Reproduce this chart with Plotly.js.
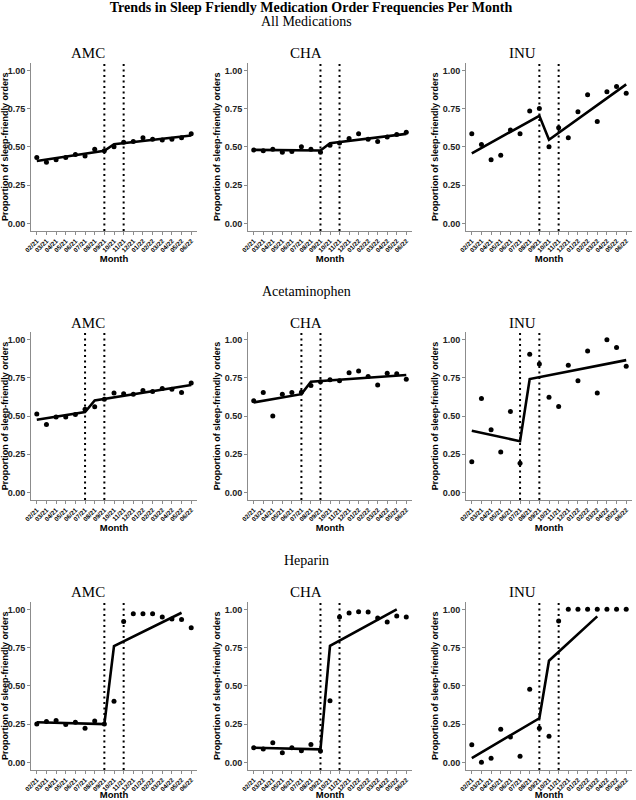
<!DOCTYPE html>
<html>
<head>
<meta charset="utf-8">
<script src="https://cdn.plot.ly/plotly-3.0.1.min.js"></script>
<style>html,body{margin:0;padding:0;background:#fff;}#chart{width:636px;height:800px;}</style>
</head>
<body>
<div id="chart"></div>
<script>
// ---- Data ----
const months = ['02/21','03/21','04/21','05/21','06/21','07/21','08/21','09/21','10/21','11/21','12/21','01/22','02/22','03/22','04/22','05/22','06/22'];
const sites = ['AMC','CHA','INU'];
const groups = ['All Medications','Acetaminophen','Heparin'];

// observed monthly proportions
const allAmcObs  = [0.43,0.40,0.415,0.43,0.45,0.44,0.485,0.475,0.50,0.53,0.535,0.56,0.55,0.545,0.55,0.56,0.585];
const allChaObs  = [0.48,0.475,0.485,0.465,0.47,0.50,0.485,0.465,0.51,0.525,0.555,0.585,0.55,0.535,0.565,0.58,0.595];
const allInuObs  = [0.585,0.515,0.415,0.445,0.61,0.585,0.735,0.75,0.50,0.625,0.56,0.73,0.84,0.665,0.86,0.895,0.85];
const acetAmcObs = [0.513,0.444,0.493,0.493,0.51,0.545,0.56,0.61,0.65,0.645,0.643,0.667,0.66,0.68,0.675,0.654,0.716];
const acetChaObs = [0.60,0.654,0.50,0.643,0.654,0.656,0.70,0.725,0.738,0.73,0.784,0.794,0.758,0.703,0.78,0.777,0.74];
const acetInuObs = [0.20,0.615,0.41,0.264,0.53,0.19,0.905,0.84,0.623,0.563,0.833,0.73,0.926,0.65,1.00,0.948,0.825];
const hepAmcObs  = [0.25,0.267,0.273,0.247,0.262,0.223,0.27,0.25,0.40,0.92,0.972,0.972,0.972,0.95,0.937,0.933,0.88];
const hepChaObs  = [0.095,0.087,0.128,0.063,0.095,0.076,0.117,0.074,0.403,0.95,0.976,0.985,0.983,0.944,0.918,0.957,0.95];
const hepInuObs  = [0.115,0.0,0.026,0.217,0.165,0.04,0.477,0.223,0.17,0.924,1.0,1.0,1.0,1.0,1.0,1.0,1.0];

// fitted segmented-regression lines (breakpoint months and values)
const allFitX    = ['02/21','09/21','10/21','06/22'];
const allAmcFit  = [0.408,0.474,0.517,0.574];
const allChaFit  = [0.48,0.476,0.524,0.585];
const allInuFit  = [0.458,0.703,0.546,0.908];
const acetFitX   = ['02/21','07/21','08/21','06/22'];
const acetAmcFit = [0.476,0.526,0.602,0.703];
const acetChaFit = [0.589,0.643,0.725,0.768];
const acetInuFit = [0.403,0.335,0.742,0.866];
const hepAmcFitX = ['02/21','09/21','10/21','05/22'];
const hepAmcFit  = [0.262,0.25,0.76,0.978];
const hepChaFitX = ['02/21','09/21','10/21','05/22'];
const hepChaFit  = [0.095,0.085,0.762,1.00];
const hepInuFitX = ['02/21','09/21','10/21','03/22'];
const hepInuFit  = [0.028,0.288,0.664,0.954];

// intervention months (dotted lines)
const allLines  = ['09/21','11/21'];
const acetLines = ['07/21','09/21'];
const hepLines  = ['09/21','11/21'];

const yTicks = [0,0.25,0.5,0.75,1];
const yTickText = ['0.00','0.25','0.50','0.75','1.00'];

// ---- Build ----
const W = 636, H = 800;
const colPx = [[31,197],[248,412],[466,632]];
const rowPx = [[62.7,231],[332,500],[601.7,770]];
const titleXPx = [88,306,522];
const subTitleYPx = [53,322.7,592.3];
const groupTitleYPx = [21.7,291,560.7];

const panels = [
  [ {obs:allAmcObs, fx:allFitX, fy:allAmcFit, v:allLines},
    {obs:allChaObs, fx:allFitX, fy:allChaFit, v:allLines},
    {obs:allInuObs, fx:allFitX, fy:allInuFit, v:allLines} ],
  [ {obs:acetAmcObs, fx:acetFitX, fy:acetAmcFit, v:acetLines},
    {obs:acetChaObs, fx:acetFitX, fy:acetChaFit, v:acetLines},
    {obs:acetInuObs, fx:acetFitX, fy:acetInuFit, v:acetLines} ],
  [ {obs:hepAmcObs, fx:hepAmcFitX, fy:hepAmcFit, v:hepLines},
    {obs:hepChaObs, fx:hepChaFitX, fy:hepChaFit, v:hepLines},
    {obs:hepInuObs, fx:hepInuFitX, fy:hepInuFit, v:hepLines} ]
];

const sans = 'Liberation Sans, Arial, sans-serif';
const serif = 'Liberation Serif, Times New Roman, serif';
const axisGrey = '#8c8c8c';

const traces = [];
const shapes = [];
const annotations = [];
const layout = {
  width: W, height: H,
  margin: {l:0, r:0, t:0, b:0},
  paper_bgcolor: '#fff', plot_bgcolor: '#fff',
  showlegend: false,
  title: {text: 'Trends in Sleep Friendly Medication Order Frequencies Per Month',
          font: {family: serif, size: 14, weight: 'bold', color: '#000'},
          x: 311/W, xanchor: 'center', xref: 'paper', y: 1 - 7/H, yanchor: 'middle', yref: 'container'},
  shapes: shapes, annotations: annotations
};

let k = 0;
for (let r = 0; r < 3; r++) {
  annotations.push({text: groups[r], xref: 'paper', yref: 'paper', x: 306/W, y: 1 - groupTitleYPx[r]/H,
    xanchor: 'center', yanchor: 'middle', showarrow: false, font: {family: serif, size: 14, color: '#000'}});
  for (let c = 0; c < 3; c++) {
    k++;
    const sfx = k === 1 ? '' : String(k);
    const p = panels[r][c];
    traces.push({type: 'scatter', mode: 'markers', x: months, y: p.obs,
      xaxis: 'x' + sfx, yaxis: 'y' + sfx, marker: {color: '#000', size: 5}, hoverinfo: 'x+y'});
    traces.push({type: 'scatter', mode: 'lines', x: p.fx, y: p.fy,
      xaxis: 'x' + sfx, yaxis: 'y' + sfx, line: {color: '#000', width: 2.6}, hoverinfo: 'skip'});
    layout['xaxis' + sfx] = {
      domain: [colPx[c][0]/W, colPx[c][1]/W], anchor: 'y' + sfx,
      type: 'category', categoryorder: 'array', categoryarray: months,
      range: [-0.6, months.length - 0.4],
      showgrid: false, zeroline: false, showline: true, linecolor: axisGrey, linewidth: 1,
      ticks: 'outside', ticklen: 3, tickcolor: axisGrey, tickwidth: 1,
      tickangle: -45, tickfont: {family: sans, size: 6.3, weight: 'bold', color: '#000'},
      title: {text: 'Month', font: {family: sans, size: 9.5, weight: 'bold', color: '#000'}, standoff: 0},
      fixedrange: true
    };
    layout['yaxis' + sfx] = {
      domain: [1 - rowPx[r][1]/H, 1 - rowPx[r][0]/H], anchor: 'x' + sfx,
      range: [-0.05, 1.05], tickvals: yTicks, ticktext: yTickText,
      showgrid: false, zeroline: false, showline: true, linecolor: axisGrey, linewidth: 1,
      ticks: 'outside', ticklen: 3, tickcolor: axisGrey, tickwidth: 1,
      tickfont: {family: sans, size: 9, weight: 'bold', color: '#222'},
      title: {text: 'Proportion of sleep-friendly orders', font: {family: sans, size: 9, weight: 'bold', color: '#000'}, standoff: 2},
      fixedrange: true
    };
    p.v.forEach(m => {
      const xi = months.indexOf(m);
      shapes.push({type: 'line', xref: 'x' + sfx, yref: 'y' + sfx + ' domain', x0: xi, x1: xi, y0: 0, y1: 1,
        line: {color: '#000', width: 2, dash: '2px,3.5px'}, layer: 'above'});
    });
    annotations.push({text: sites[c], xref: 'paper', yref: 'paper', x: titleXPx[c]/W, y: 1 - subTitleYPx[r]/H,
      xanchor: 'center', yanchor: 'middle', showarrow: false, font: {family: serif, size: 15, color: '#000'}});
  }
}

Plotly.newPlot('chart', traces, layout, {displayModeBar: false, staticPlot: true});
</script>
</body>
</html>
